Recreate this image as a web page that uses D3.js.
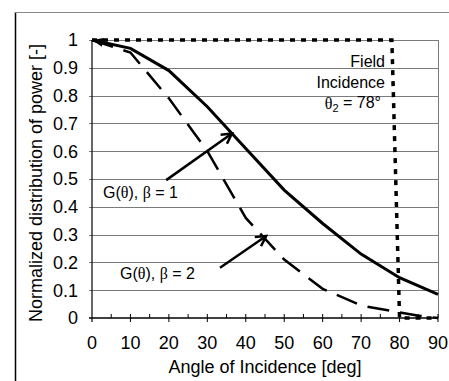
<!DOCTYPE html>
<html>
<head>
<meta charset="utf-8">
<script src="https://cdn.jsdelivr.net/npm/d3@7"></script>
<style>
  body { margin: 0; background: #fff; }
  text { font-family: "Liberation Sans", Arial, sans-serif; fill: #000; }
</style>
</head>
<body>
<div id="chart"></div>
<script>
// data
const angles = [0, 10, 20, 30, 40, 50, 60, 70, 80, 90];
const beta1 = [1, 0.97, 0.89, 0.76, 0.61, 0.46, 0.34, 0.23, 0.145, 0.085];
const beta2Angles = [0, 10, 20, 30, 40, 50, 60, 70, 80, 85, 90];
const beta2 = [1, 0.955, 0.79, 0.6, 0.36, 0.21, 0.105, 0.045, 0.02, 0.008, 0];
const fieldAngles = [0, 78, 80, 90];
const fieldValues = [1, 1, 0, 0];
const xTicks = [0, 10, 20, 30, 40, 50, 60, 70, 80, 90];
const yTicks = [0, 0.1, 0.2, 0.3, 0.4, 0.5, 0.6, 0.7, 0.8, 0.9, 1];
// annotation arrows [angle, value] from -> to
const arrow1 = [[19.3, 0.496], [36.4, 0.664]];
const arrow2 = [[33.3, 0.181], [45.3, 0.295]];

const width = 449, height = 381;
const margin = { top: 40, right: 11, bottom: 63, left: 92 };

const svg = d3.select("#chart").append("svg")
  .attr("width", width).attr("height", height);

// outer frame
svg.append("line").attr("x1", 15.5).attr("x2", 15.5).attr("y1", 12).attr("y2", height)
  .attr("stroke", "#000").attr("stroke-width", 1.5);
svg.append("line").attr("x1", 15).attr("x2", width).attr("y1", 12.5).attr("y2", 12.5)
  .attr("stroke", "#888").attr("stroke-width", 1);

const x = d3.scaleLinear().domain([0, 90]).range([margin.left, width - margin.right]);
const y = d3.scaleLinear().domain([0, 1]).range([height - margin.bottom, margin.top]);

// gridlines
svg.selectAll("line.grid")
  .data(yTicks.slice(1))
  .join("line")
  .attr("class", "grid")
  .attr("x1", x(0) - 3).attr("x2", x(90))
  .attr("y1", d => Math.round(y(d)) + 0.5).attr("y2", d => Math.round(y(d)) + 0.5)
  .attr("stroke", "#7a7a7a").attr("stroke-width", 1);
// right border
svg.append("line")
  .attr("x1", x(90) + 0.5).attr("x2", x(90) + 0.5)
  .attr("y1", y(1)).attr("y2", y(0))
  .attr("stroke", "#7a7a7a");

// y axis
svg.append("line")
  .attr("x1", x(0)).attr("x2", x(0)).attr("y1", y(1)).attr("y2", y(0) + 4)
  .attr("stroke", "#000").attr("stroke-width", 1.2);
svg.selectAll("text.ytick")
  .data(yTicks)
  .join("text")
  .attr("class", "ytick")
  .attr("x", x(0) - 14)
  .attr("y", d => y(d))
  .attr("dy", "0.35em")
  .attr("text-anchor", "end")
  .attr("font-size", 18)
  .text(d => d3.format("~g")(d));

// x axis
svg.append("line")
  .attr("x1", x(0) - 3).attr("x2", x(90)).attr("y1", y(0)).attr("y2", y(0))
  .attr("stroke", "#000").attr("stroke-width", 1.5);
svg.selectAll("line.xtick")
  .data(d3.range(5, 91, 5))
  .join("line")
  .attr("class", "xtick")
  .attr("x1", d => x(d)).attr("x2", d => x(d))
  .attr("y1", y(0) - 4)
  .attr("y2", d => d % 10 === 0 ? y(0) + 4 : y(0))
  .attr("stroke", "#000").attr("stroke-width", 1);
svg.selectAll("text.xtick")
  .data(xTicks)
  .join("text")
  .attr("class", "xtick")
  .attr("x", d => x(d))
  .attr("y", y(0) + 25)
  .attr("dy", "0.35em")
  .attr("text-anchor", "middle")
  .attr("font-size", 18)
  .text(d => d);

// axis titles
svg.append("text")
  .attr("x", 265).attr("y", 367).attr("dy", "0.35em")
  .attr("text-anchor", "middle").attr("font-size", 18)
  .text("Angle of Incidence [deg]");
svg.append("text")
  .attr("transform", "translate(36,183) rotate(-90)")
  .attr("dy", "0.35em")
  .attr("text-anchor", "middle").attr("font-size", 18)
  .text("Normalized distribution of power [-]");

// markers
const defs = svg.append("defs");
defs.append("marker")
  .attr("id", "vhead")
  .attr("markerUnits", "userSpaceOnUse")
  .attr("viewBox", "-12 -7 14 14")
  .attr("markerWidth", 14).attr("markerHeight", 14)
  .attr("refX", 0).attr("refY", 0)
  .attr("orient", "auto")
  .append("path")
  .attr("d", "M-10,-5.5 L0,0 L-10,5.5")
  .attr("fill", "none").attr("stroke", "#000").attr("stroke-width", 2.5);
defs.append("marker")
  .attr("id", "tri")
  .attr("markerUnits", "userSpaceOnUse")
  .attr("viewBox", "-12 -6 14 12")
  .attr("markerWidth", 14).attr("markerHeight", 12)
  .attr("refX", 0).attr("refY", 0)
  .attr("orient", "auto-start-reverse")
  .append("path")
  .attr("d", "M-11,-4.5 L0,0 L-11,4.5 Z")
  .attr("fill", "#000");

const line = d3.line().x(d => x(d[0])).y(d => y(d[1]));

// field incidence (dotted)
svg.append("path")
  .datum(fieldAngles.map((a, i) => [a, fieldValues[i]]))
  .attr("d", line)
  .attr("fill", "none").attr("stroke", "#000")
  .attr("stroke-width", 3.5).attr("stroke-dasharray", "5,6");

// beta = 2 (dashed)
svg.append("path")
  .datum(beta2Angles.map((a, i) => [a, beta2[i]]))
  .attr("d", line)
  .attr("fill", "none").attr("stroke", "#000")
  .attr("stroke-width", 2.5).attr("stroke-dasharray", "22,11");

// beta = 1 (solid)
svg.append("path")
  .datum(angles.map((a, i) => [a, beta1[i]]))
  .attr("d", line)
  .attr("fill", "none").attr("stroke", "#000")
  .attr("stroke-width", 3)
  .attr("marker-start", "url(#tri)");

// annotation arrows
[arrow1, arrow2].forEach(a => {
  svg.append("path")
    .datum(a)
    .attr("d", line)
    .attr("fill", "none").attr("stroke", "#000")
    .attr("stroke-width", 2.5)
    .attr("marker-end", "url(#vhead)");
});

// labels
function gLabel(xp, yp, b) {
  const t = svg.append("text").attr("x", xp).attr("y", yp).attr("dy", "0.35em").attr("font-size", 16);
  t.append("tspan").text("G(");
  t.append("tspan").attr("font-family", "Liberation Serif, serif").text("θ");
  t.append("tspan").text("), ");
  t.append("tspan").attr("font-family", "Liberation Serif, serif").text("β");
  t.append("tspan").text(" = " + b);
}
gLabel(103, 192, 1);
gLabel(120, 273, 2);

svg.append("text").attr("x", 385).attr("y", 61).attr("dy", "0.35em")
  .attr("text-anchor", "end").attr("font-size", 16).text("Field");
svg.append("text").attr("x", 385).attr("y", 82).attr("dy", "0.35em")
  .attr("text-anchor", "end").attr("font-size", 16).text("Incidence");
const th = svg.append("text").attr("x", 381).attr("y", 103).attr("dy", "0.35em")
  .attr("text-anchor", "end").attr("font-size", 16);
th.append("tspan").attr("font-family", "Liberation Serif, serif").text("θ");
th.append("tspan").attr("font-size", 11).attr("dy", "0.35em").text("2");
th.append("tspan").attr("dy", "-0.25em").text(" = 78°");
</script>
</body>
</html>
